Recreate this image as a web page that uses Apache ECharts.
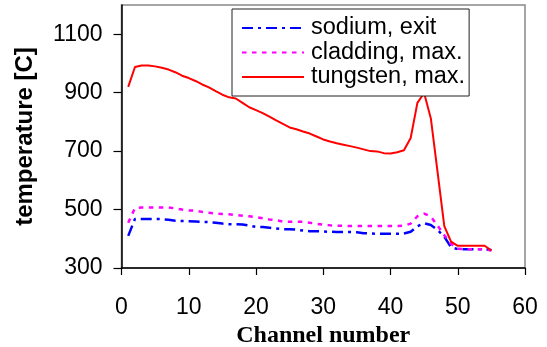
<!DOCTYPE html>
<html>
<head>
<meta charset="utf-8">
<script src="https://cdn.jsdelivr.net/npm/echarts@6/dist/echarts.min.js"></script>
<style>
  html, body { margin: 0; padding: 0; background: #fff; }
  #chart { width: 547px; height: 347px; }
</style>
</head>
<body>
<div id="chart"></div>
<script>
// Channel numbers along the subassembly
const channels = [1,2,3,4,5,6,7,8,9,10,11,12,13,14,15,16,17,18,19,20,
  21,22,23,24,25,26,27,28,29,30,31,32,33,34,35,36,37,38,39,40,
  41,42,43,44,45,46,47,48,49,50,51,52,53,54,55];

// Sodium exit temperature [C]
const sodiumExit = [410,468,468,468,468,467,465,462,461,460,459,458,457,455,452,450,450,449,445,441,
  440,438,435,433,433,431,428,426,426,425,424,423,423,423,422,419,418,417,417,417,
  417,418,424,443,453,447,430,407,371,365,364,364,364,364,362];

// Maximum cladding temperature [C]
const claddingMax = [455,505,507,507,507,507,507,504,500,497,496,492,489,486,485,484,481,479,477,474,
  470,466,464,459,458,458,458,455,451,448,446,445,444,444,444,444,444,444,444,444,
  444,445,452,477,486,476,445,412,383,366,364,364,364,364,360];

// Maximum tungsten temperature [C]
const tungstenMax = [920,988,993,993,990,985,979,970,958,950,940,928,918,905,893,884,880,865,850,840,
  830,818,805,793,781,775,767,760,750,740,733,727,722,717,712,706,700,699,693,692,
  696,703,745,865,899,812,628,443,390,376,376,376,376,376,360];

const yTicks = [300, 500, 700, 900, 1100];
const xTicks = [0, 10, 20, 30, 40, 50, 60];

const pairs = vals => channels.map((c, i) => [c, vals[i]]);

const sans = '"Liberation Sans", Arial, sans-serif';
const serif = '"Liberation Serif", "Times New Roman", serif';

const chart = echarts.init(document.getElementById('chart'), null, { renderer: 'canvas' });
chart.setOption({
  animation: false,
  backgroundColor: '#fff',
  grid: {
    left: 121.5, right: 22, top: 5, bottom: 79,
    containLabel: false, outerBoundsMode: 'none',
    show: true, borderColor: '#888', borderWidth: 1.5, backgroundColor: 'transparent'
  },
  legend: {
    orient: 'vertical',
    left: 232, top: 9,
    padding: [7, 4, 7, 9],
    backgroundColor: '#fff',
    borderColor: '#222', borderWidth: 1,
    borderRadius: 0,
    itemWidth: 62, itemHeight: 14, itemGap: 0.5,
    itemStyle: { opacity: 0 },
    textStyle: { fontFamily: sans, fontSize: 23.5, color: '#000', lineHeight: 22, padding: [0, 0, 0, 2] },
    data: ['sodium, exit', 'cladding, max.', 'tungsten, max.']
  },
  xAxis: {
    type: 'value',
    min: 0, max: 60, interval: 10,
    name: 'Channel number',
    nameLocation: 'middle', nameGap: 50,
    nameTextStyle: { fontFamily: serif, fontWeight: 'bold', fontSize: 24, color: '#000' },
    axisLine: { show: true, onZero: false, lineStyle: { color: '#000', width: 1.5 } },
    axisTick: { show: true, inside: false, length: 7, lineStyle: { color: '#000', width: 1.2 }, customValues: xTicks },
    axisLabel: { fontFamily: sans, fontSize: 23, color: '#000', margin: 28, customValues: xTicks,
      formatter: v => String(v) },
    splitLine: { show: false }
  },
  yAxis: {
    type: 'value',
    min: 300, max: 1200, interval: 200,
    name: 'temperature [C]',
    nameLocation: 'middle', nameGap: 84,
    nameTextStyle: { fontFamily: sans, fontWeight: 'bold', fontSize: 24, color: '#000' },
    axisLine: { show: true, onZero: false, lineStyle: { color: '#000', width: 1.5 } },
    axisTick: { show: true, inside: false, length: 8, lineStyle: { color: '#000', width: 1.2 }, customValues: yTicks },
    axisLabel: { fontFamily: sans, fontSize: 23, color: '#000', margin: 19, customValues: yTicks,
      formatter: v => String(v) },
    splitLine: { show: false }
  },
  series: [
    {
      name: 'sodium, exit', type: 'line', data: pairs(sodiumExit),
      symbol: 'none', color: '#0000ff',
      lineStyle: { color: '#0000ff', width: 2.5, type: [11, 5, 3, 5] }
    },
    {
      name: 'cladding, max.', type: 'line', data: pairs(claddingMax),
      symbol: 'none', color: '#ff00ff',
      lineStyle: { color: '#ff00ff', width: 2.5, type: [4.5, 5.5] }
    },
    {
      name: 'tungsten, max.', type: 'line', data: pairs(tungstenMax),
      symbol: 'none', color: '#ff0000',
      lineStyle: { color: '#ff0000', width: 2 }
    }
  ]
});
</script>
</body>
</html>
